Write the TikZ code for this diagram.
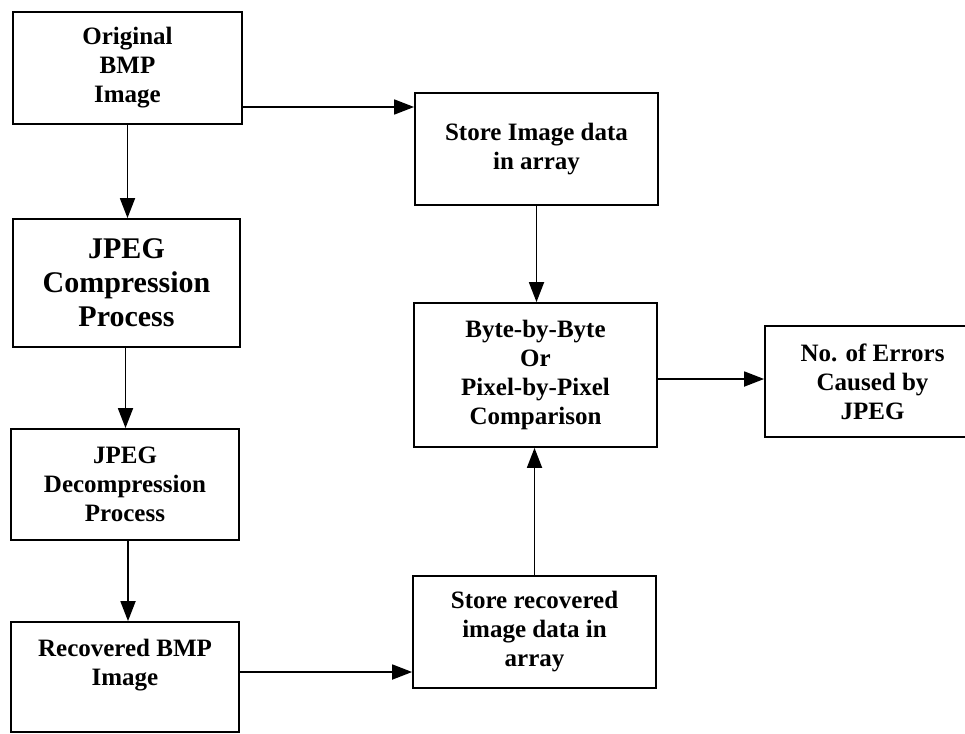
\documentclass[tikz,border=0pt]{standalone}
\usepackage{fontspec}
\setmainfont{Liberation Serif}
\usetikzlibrary{arrows.meta}

\begin{document}
\begin{tikzpicture}[x=1pt, y=-1pt,
  blk/.style={draw, line width=1.8pt, fill=white, inner sep=0pt, align=center,
    font=\bfseries\fontsize{25}{29}\selectfont},
  flow/.style={line width=1.8pt, -{Triangle[length=20pt, width=15pt]}}]

  \fill[white] (0,0) rectangle (965,733);
  \useasboundingbox (0,0) rectangle (965,733);

  % left column
  \node[blk, minimum width=229pt, minimum height=112pt] (orig) at (127.5, 68) {Original\\BMP\\Image};
  \node[blk, minimum width=227pt, minimum height=128pt, font=\bfseries\fontsize{30}{34}\selectfont]
    (comp) at (126.5, 283) {JPEG\\Compression\\Process};
  \node[blk, minimum width=228pt, minimum height=111pt] (decomp) at (125, 484.5) {JPEG\\Decompression\\Process};
  \node[blk, minimum width=228pt, minimum height=110pt] (recov) at (125, 677) {Recovered BMP\\Image\\\mbox{}};

  % middle column
  \node[blk, minimum width=243pt, minimum height=112pt] (store) at (536.5, 149) {Store Image data\\in array};
  \node[blk, minimum width=243pt, minimum height=144pt] (cmp) at (535.5, 375) {Byte-by-Byte\\Or\\Pixel-by-Pixel\\Comparison};
  \node[blk, minimum width=243pt, minimum height=112pt] (storerec) at (534.5, 632) {Store recovered\\image data in\\array};

  % result, runs off the right edge
  \node[blk, minimum width=215pt, minimum height=111pt] (errs) at (872.5, 381.5) {No. of Errors\\Caused by\\JPEG};

  \draw[flow] (orig.south) -- (orig.south |- comp.north); %% orig->comp
  \draw[flow] ([xshift=-1pt]comp.south) -- ([xshift=-1pt]comp.south |- decomp.north); %% comp->decomp
  \draw[flow] ([xshift=3pt]decomp.south) -- ([xshift=3pt]decomp.south |- recov.north); %% decomp->recov

  \draw[flow] ([yshift=-39pt]orig.east) -- ([yshift=-39pt]orig.east -| store.west); %% orig->store
  \draw[flow] (store.south) -- (store.south |- cmp.north); %% store->cmp
  \draw[flow] ([yshift=-4pt]cmp.east) -- ([yshift=-4pt]cmp.east -| errs.west); %% cmp->errs
  \draw[flow] (storerec.north) -- (storerec.north |- cmp.south); %% storerec->cmp
  \draw[flow] ([yshift=5pt]recov.east) -- ([yshift=5pt]recov.east -| storerec.west); %% recov->storerec
\end{tikzpicture}
\end{document}
